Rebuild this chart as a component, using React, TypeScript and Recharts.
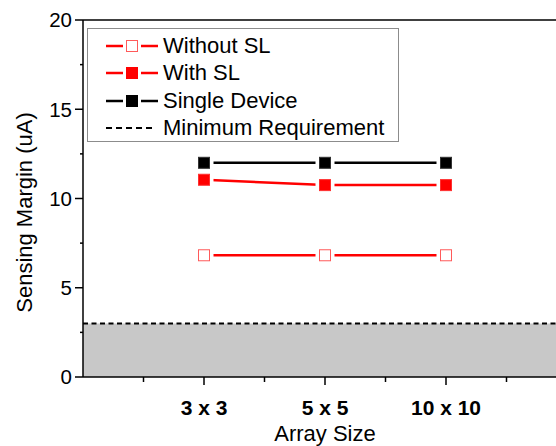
import React from "react";
import {
  ComposedChart,
  Line,
  XAxis,
  YAxis,
  ReferenceArea,
  ReferenceLine,
  Legend,
} from "recharts";

const categories = ["3 x 3", "5 x 5", "10 x 10"];
const positions = [1, 2, 3];
const withoutSL = [6.82, 6.82, 6.82];
const withSL = [11.05, 10.75, 10.75];
const singleDevice = [12.0, 12.0, 12.0];
const minRequirement = 3;
const seriesNames = ["Without SL", "With SL", "Single Device", "Minimum Requirement"];
const yTicks = [0, 2.5, 5, 7.5, 10, 12.5, 15, 17.5, 20];
const xTicks = [0.5, 1, 1.5, 2, 2.5, 3, 3.5];

const data = positions.map((x, i) => ({
  x,
  withoutSL: withoutSL[i],
  withSL: withSL[i],
  singleDevice: singleDevice[i],
}));

const FONT = "'Liberation Sans', Arial, sans-serif";
const RED = "#ff0000";

// square marker with a white halo so the line stops short of it
const squareDot = (fill: string, stroke: string) => (props: any) => {
  const { cx, cy, index } = props;
  if (cx == null || cy == null) return <g key={index} />;
  return (
    <g key={index}>
      <rect x={cx - 9.5} y={cy - 9.5} width={19} height={19} fill="#fff" />
      <rect x={cx - 5.5} y={cy - 5.5} width={11} height={11} fill={fill} stroke={stroke} strokeWidth={1} />
    </g>
  );
};

const XTick = (props: any) => {
  const { x, y, payload } = props;
  const v = payload.value;
  const major = Number.isInteger(v);
  return (
    <g>
      <line x1={x} x2={x} y1={y} y2={y + (major ? 8 : 5)} stroke="#000" strokeWidth={1.5} />
      {major && (
        <text x={x} y={y + 38} textAnchor="middle" fontFamily={FONT} fontSize={21} fontWeight="bold" fill="#000">
          {categories[v - 1]}
        </text>
      )}
    </g>
  );
};

const YTick = (props: any) => {
  const { x, y, payload } = props;
  const v = payload.value;
  const major = v % 5 === 0;
  return (
    <g>
      <line x1={x - (major ? 8 : 3)} x2={x} y1={y} y2={y} stroke="#000" strokeWidth={1.5} />
      {major && (
        <text x={x - 11} y={y} dy="0.36em" textAnchor="end" fontFamily={FONT} fontSize={20.5} fill="#000">
          {v}
        </text>
      )}
    </g>
  );
};

const LegendSymbol = ({ kind }: { kind: number }) => {
  if (kind === 3) {
    return (
      <svg width={52} height={12}>
        <line x1={0} x2={48} y1={6} y2={6} stroke="#000" strokeWidth={2} strokeDasharray="6 4" />
      </svg>
    );
  }
  const color = kind === 2 ? "#000" : RED;
  const fill = kind === 0 ? "#fff" : color;
  const stroke = kind === 0 ? "#ff5a5a" : color;
  return (
    <svg width={52} height={12}>
      <line x1={0} x2={17} y1={6} y2={6} stroke={color} strokeWidth={2.5} />
      <rect x={20.5} y={0.5} width={11} height={11} fill={fill} stroke={stroke} strokeWidth={1} />
      <line x1={35} x2={52} y1={6} y2={6} stroke={color} strokeWidth={2.5} />
    </svg>
  );
};

const LegendBox = () => (
  <div
    style={{
      boxSizing: "border-box",
      width: 312,
      height: 114,
      border: "1px solid #8c8c8c",
      background: "#fff",
      paddingTop: 3,
      paddingLeft: 18,
      fontFamily: FONT,
      fontSize: 22,
      color: "#000",
    }}
  >
    {seriesNames.map((name, i) => (
      <div key={name} style={{ display: "flex", alignItems: "center", height: 27.5 }}>
        <LegendSymbol kind={i} />
        <span style={{ marginLeft: 5, lineHeight: 1 }}>{name}</span>
      </div>
    ))}
  </div>
);

export default function App() {
  return (
    <div style={{ position: "absolute", left: 0, top: 0, width: 556, height: 446, overflow: "hidden", background: "#fff" }}>
      <ComposedChart
        width={600}
        height={446}
        data={data}
        margin={{ top: 20, right: 33, bottom: 0, left: 0 }}
      >
        <ReferenceArea
          x1={0}
          x2={4}
          y1={0}
          y2={minRequirement}
          fill="#c8c8c8"
          fillOpacity={1}
          stroke="none"
        />
        <ReferenceLine y={minRequirement} stroke="#000" strokeWidth={2} strokeDasharray="5 3.5" />
        <ReferenceLine y={20} stroke="#000" strokeWidth={1.5} />
        <XAxis
          dataKey="x"
          type="number"
          domain={[0, 4]}
          ticks={xTicks}
          interval={0}
          height={69}
          tickSize={0}
          tickMargin={0}
          tickLine={false}
          axisLine={{ stroke: "#000", strokeWidth: 1.5 }}
          tick={<XTick />}
          label={{
            value: "Array Size",
            position: "insideBottom",
            offset: 5,
            fontFamily: FONT,
            fontSize: 22,
            fill: "#000",
          }}
        />
        <YAxis
          type="number"
          domain={[0, 20]}
          ticks={yTicks}
          interval={0}
          width={83}
          tickSize={0}
          tickMargin={0}
          tickLine={false}
          axisLine={{ stroke: "#000", strokeWidth: 1.5 }}
          tick={<YTick />}
          label={{
            value: "Sensing Margin (uA)",
            angle: -90,
            position: "center",
            dx: -17,
            dy: 14,
            fontFamily: FONT,
            fontSize: 22,
            fill: "#000",
          }}
        />
        <Legend
          layout="horizontal"
          verticalAlign="middle"
          align="center"
          content={() => <LegendBox />}
          wrapperStyle={{ left: 87, top: 28, width: 312, height: 114 }}
        />
        <Line
          dataKey="withoutSL"
          stroke={RED}
          strokeWidth={2.5}
          dot={squareDot("#fff", "#ff5a5a")}
          activeDot={false}
          isAnimationActive={false}
        />
        <Line
          dataKey="withSL"
          stroke={RED}
          strokeWidth={2.5}
          dot={squareDot(RED, "#ff3030")}
          activeDot={false}
          isAnimationActive={false}
        />
        <Line
          dataKey="singleDevice"
          stroke="#000"
          strokeWidth={2.5}
          dot={squareDot("#000", "#333")}
          activeDot={false}
          isAnimationActive={false}
        />
      </ComposedChart>
    </div>
  );
}
